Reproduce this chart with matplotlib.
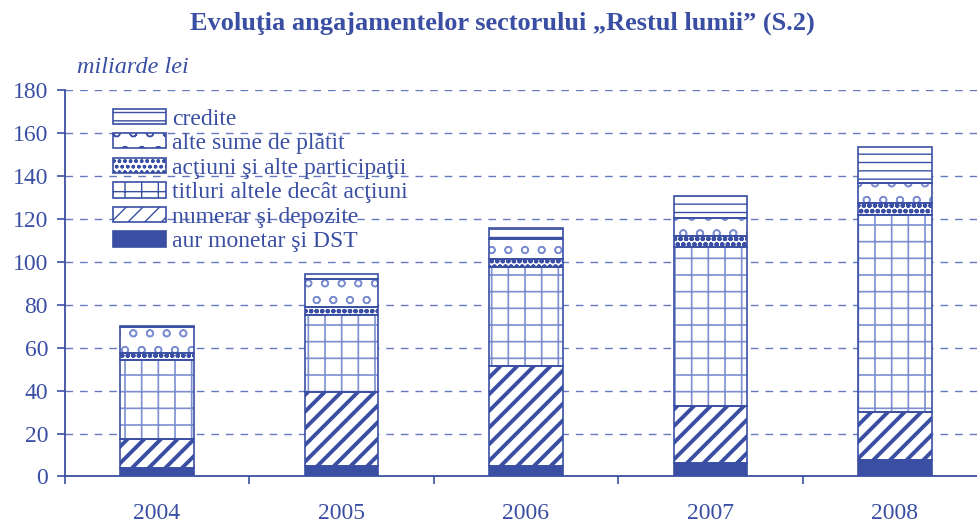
import numpy as np
import matplotlib
matplotlib.use('Agg')
import matplotlib.pyplot as plt
from matplotlib.patches import Patch

years = ['2004', '2005', '2006', '2007', '2008']

# stacked components, bottom to top (miliarde lei)
aur = [3.9, 4.8, 5.1, 6.4, 7.8]
numerar = [13.4, 34.5, 46.3, 26.4, 22.2]
titluri = [37.1, 36.1, 46.2, 73.9, 91.7]
actiuni = [3.3, 3.6, 3.9, 5.4, 5.5]
alte_sume = [12.0, 12.9, 9.3, 8.1, 9.3]
credite = [0.3, 2.6, 4.7, 10.5, 16.8]

labels = ['aur monetar şi DST', 'numerar şi depozite', 'titluri altele decât acţiuni',
          'acţiuni şi alte participaţii', 'alte sume de plătit', 'credite']

blue = '#3a4fa3'
light = '#7d8fd0'
grid_col = '#6678c0'

plt.rcParams['font.family'] = ['Liberation Serif', 'DejaVu Serif']

# face, edge, hatch, hatch linewidth
styles = [
    (blue, blue, None, 1.0),
    ('white', blue, '//', 2.8),
    ('white', light, '+', 1.2),
    ('white', blue, 'ooo', 1.6),
    ('white', light, 'o', 1.1),
    ('white', blue, '--', 1.0),
]

fig = plt.figure(figsize=(9.78, 5.22), dpi=100)
ax = fig.add_axes([0.0662, 0.0872, 0.9338, 0.7404])

x = np.arange(len(years))
width = 0.4
series = [aur, numerar, titluri, actiuni, alte_sume, credite]
bottom = np.zeros(len(years))
for vals, (fc, ec, hatch, hlw) in zip(series, styles):
    bars = ax.bar(x, vals, width, bottom=bottom, color=fc, edgecolor=ec,
                  hatch=hatch, linewidth=0, zorder=2)
    for b in bars:
        if hasattr(b, 'set_hatch_linewidth'):
            b.set_hatch_linewidth(hlw)
    # outline of each segment
    ax.bar(x, vals, width, bottom=bottom, fill=False, edgecolor=blue,
           linewidth=1.2, zorder=3)
    bottom += np.array(vals)

ax.set_xlim(-0.5, 4.45)
ax.set_ylim(0, 180)
ax.set_yticks(np.arange(0, 181, 20))
ax.yaxis.grid(True, linestyle=(0, (5.5, 5)), color=grid_col, linewidth=1.0, zorder=0)
ax.set_axisbelow(True)

# category boundaries as ticks, years as labels in between
ax.set_xticks([-0.5, 0.5, 1.5, 2.5, 3.5])
ax.set_xticklabels([])
ax.set_xticks(x, minor=True)
ax.set_xticklabels(years, minor=True)
ax.tick_params(axis='x', which='major', length=6, width=1.2, color=blue, direction='out')
ax.tick_params(axis='x', which='minor', length=0, pad=19, labelsize=17, labelcolor=blue)
ax.tick_params(axis='y', length=6, width=1.2, color=blue, labelsize=17, labelcolor=blue, pad=6)

for side in ['top', 'right']:
    ax.spines[side].set_visible(False)
for side in ['left', 'bottom']:
    ax.spines[side].set_color(blue)
    ax.spines[side].set_linewidth(1.3)

handles = []
for (fc, ec, hatch, hlw), lab in zip(styles, labels):
    p = Patch(facecolor=fc, edgecolor=ec, hatch=hatch, linewidth=1.2, label=lab)
    if hasattr(p, 'set_hatch_linewidth'):
        p.set_hatch_linewidth(hlw)
    handles.append(p)
leg = ax.legend(handles[::-1], labels[::-1], loc='upper left', bbox_to_anchor=(0.053, 0.952),
                frameon=False, fontsize=17, handlelength=2.25, handleheight=0.62,
                handletextpad=0.25, labelspacing=0.15, borderpad=0, borderaxespad=0)
for t in leg.get_texts():
    t.set_color(blue)
for h in leg.legend_handles:
    h.set_edgecolor(blue)

fig.text(0.514, 0.956, 'Evoluţia angajamentelor sectorului „Restul lumii” (S.2)',
         ha='center', va='center', fontsize=19, fontweight='bold', color=blue)
fig.text(0.079, 0.871, 'miliarde lei', ha='left', va='center', fontsize=17.5,
         style='italic', color=blue)

fig.savefig('out.png', dpi=100)
